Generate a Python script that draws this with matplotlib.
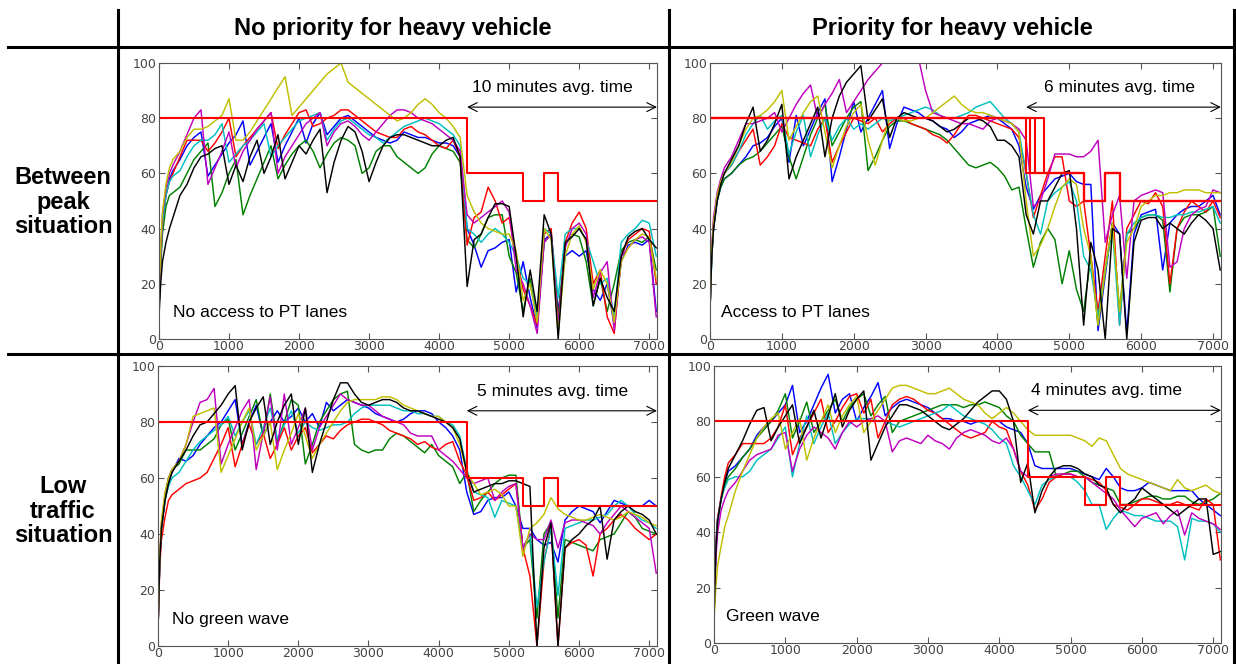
"""
    speed profiles of heavy vehicles - 2x2 comparison table
"""

import matplotlib
matplotlib.use('Agg')
import matplotlib.pyplot as plt

# time grid (s), shared by every series
T = [0, 25, 50, 100, 150, 200,
     300, 400, 500, 600, 700, 800, 900, 1000, 1100, 1200,
     1300, 1400, 1500, 1600, 1700, 1800, 1900, 2000, 2100, 2200,
     2300, 2400, 2500, 2600, 2700, 2800, 2900, 3000, 3100, 3200,
     3300, 3400, 3500, 3600, 3700, 3800, 3900, 4000, 4100, 4200,
     4300, 4400, 4500, 4600, 4700, 4800, 4900, 5000, 5100, 5200,
     5300, 5400, 5500, 5600, 5700, 5800, 5900, 6000, 6100, 6200,
     6300, 6400, 6500, 6600, 6700, 6800, 6900, 7000, 7100]

# speed limit steps
limit_t = [0, 4400, 5200, 5500, 5700, 7110]
limit_v = [80, 60, 50, 60, 50, 50]
tr_limit_drops = [4400, 4450, 4520, 4650]

col_names = ['No priority for heavy vehicle', 'Priority for heavy vehicle']
row_names = ['Between\npeak\nsituation', 'Low\ntraffic\nsituation']
panel_notes = ['No access to PT lanes', 'Access to PT lanes', 'No green wave', 'Green wave']
avg_notes = ['10 minutes avg. time', '6 minutes avg. time', '5 minutes avg. time', '4 minutes avg. time']

# ---- between peak, no priority
tl_b = [10, 30, 42, 52, 58, 61,
        65, 70, 73, 75, 59, 63, 67, 71, 74, 79,
        63, 68, 73, 78, 64, 70, 75, 80, 71, 78,
        82, 74, 77, 80, 81, 79, 77, 75, 73, 72,
        71, 72, 75, 74, 73, 73, 72, 71, 71, 70,
        66, 40, 34, 26, 32, 33, 35, 36, 17, 28,
        15, 4, 36, 38, 10, 30, 32, 30, 32, 18,
        14, 20, 5, 28, 34, 35, 34, 36, 10]
tl_g = [10, 26, 38, 48, 52, 53,
        55, 60, 65, 68, 71, 48, 53, 60, 65, 45,
        52, 58, 64, 70, 58, 63, 67, 70, 72, 68,
        62, 67, 71, 73, 72, 70, 60, 62, 68, 70,
        70, 66, 64, 62, 60, 62, 67, 70, 69, 68,
        64, 36, 33, 38, 44, 45, 45, 30, 24, 10,
        22, 6, 35, 38, 8, 34, 38, 37, 28, 12,
        22, 10, 20, 32, 35, 36, 35, 37, 25]
tl_r = [12, 30, 42, 52, 57, 60,
        66, 72, 72, 72, 68, 71, 75, 80, 66, 70,
        73, 76, 79, 82, 69, 74, 78, 82, 83, 77,
        78, 80, 81, 83, 83, 81, 79, 77, 75, 74,
        73, 73, 76, 77, 75, 74, 72, 70, 69, 72,
        66, 34, 44, 46, 55, 50, 42, 44, 30, 18,
        12, 5, 38, 40, 4, 35, 42, 46, 40, 20,
        25, 8, 2, 30, 36, 38, 40, 39, 20]
tl_c = [10, 30, 42, 52, 57, 59,
        61, 66, 70, 72, 72, 74, 78, 64, 67, 70,
        72, 75, 78, 66, 70, 73, 76, 79, 80, 81,
        82, 72, 76, 79, 80, 78, 76, 74, 73, 71,
        73, 75, 77, 78, 79, 80, 79, 78, 76, 74,
        70, 40, 38, 35, 38, 40, 38, 35, 30, 22,
        20, 8, 40, 38, 15, 38, 40, 40, 36, 28,
        20, 22, 8, 35, 38, 40, 43, 42, 30]
tl_m = [10, 32, 45, 55, 60, 63,
        68, 74, 80, 83, 56, 62, 68, 75, 62, 68,
        72, 76, 79, 82, 60, 66, 70, 74, 78, 80,
        82, 70, 75, 78, 79, 77, 74, 72, 75, 78,
        81, 83, 83, 82, 80, 79, 78, 76, 74, 72,
        68, 45, 42, 44, 46, 48, 50, 46, 25, 20,
        12, 2, 35, 38, 5, 33, 40, 42, 38, 15,
        24, 28, 3, 30, 33, 36, 37, 35, 8]
tl_y = [12, 34, 46, 56, 62, 65,
        68, 73, 76, 76, 77, 79, 81, 87, 72, 72,
        75, 79, 83, 87, 91, 95, 81, 84, 87, 90,
        93, 96, 98, 100, 93, 91, 89, 87, 85, 83,
        81, 79, 80, 82, 85, 87, 85, 82, 80, 77,
        73, 52, 46, 42, 40, 39, 38, 38, 32, 14,
        20, 6, 40, 36, 2, 30, 38, 41, 35, 18,
        25, 20, 6, 28, 33, 36, 38, 37, 22]
tl_k = [8, 20, 28, 35, 40, 44,
        52, 56, 62, 66, 67, 69, 70, 56, 63, 57,
        66, 72, 60, 66, 74, 58, 64, 70, 67, 72,
        76, 53, 64, 72, 77, 75, 68, 57, 64, 70,
        73, 74, 74, 73, 72, 71, 70, 70, 72, 73,
        66, 19, 36, 38, 44, 49, 49, 48, 30, 8,
        25, 10, 45, 38, 0, 35, 37, 40, 36, 12,
        22, 15, 10, 30, 37, 39, 40, 36, 33]

# ---- between peak, priority
tr_b = [10, 30, 40, 50, 55, 58,
        60, 63, 66, 70, 71, 73, 77, 80, 64, 81,
        70, 76, 82, 87, 57, 66, 76, 86, 75, 80,
        85, 90, 69, 78, 84, 83, 82, 80, 79, 77,
        76, 73, 75, 78, 79, 80, 81, 80, 78, 76,
        70, 55, 47, 52, 55, 58, 59, 60, 57, 56,
        56, 3, 23, 42, 38, 2, 38, 45, 46, 47,
        25, 42, 45, 47, 48, 48, 50, 52, 45]
tr_g = [10, 30, 40, 50, 55, 58,
        60, 63, 65, 66, 68, 71, 74, 77, 66, 58,
        66, 74, 80, 85, 70, 75, 80, 84, 86, 61,
        66, 72, 77, 79, 79, 78, 77, 76, 75, 74,
        72, 69, 66, 63, 62, 63, 64, 62, 59, 54,
        55, 40, 26, 35, 40, 36, 20, 32, 18, 10,
        30, 5, 25, 42, 10, 38, 40, 44, 45, 45,
        43, 17, 40, 44, 45, 45, 46, 48, 30]
tr_r = [10, 32, 42, 52, 57, 60,
        63, 68, 72, 76, 63, 66, 70, 78, 73, 72,
        71, 70, 76, 80, 64, 70, 75, 80, 79, 78,
        80, 75, 78, 80, 80, 78, 77, 76, 74, 73,
        71, 74, 78, 81, 81, 80, 79, 78, 77, 76,
        73, 60, 44, 52, 60, 66, 66, 50, 48, 50,
        30, 10, 30, 50, 5, 40, 45, 50, 49, 53,
        48, 20, 40, 46, 50, 48, 46, 50, 44]
tr_c = [10, 30, 42, 52, 57, 60,
        63, 68, 74, 78, 81, 76, 79, 81, 67, 75,
        81, 66, 74, 80, 72, 77, 80, 76, 78, 76,
        78, 80, 79, 80, 81, 82, 83, 84, 83, 81,
        80, 80, 81, 82, 84, 85, 86, 83, 80, 78,
        75, 60, 45, 38, 50, 53, 55, 57, 50, 30,
        25, 8, 25, 40, 5, 38, 42, 44, 45, 45,
        44, 44, 45, 45, 46, 46, 47, 48, 42]
tr_m = [10, 33, 44, 53, 58, 62,
        66, 72, 78, 78, 79, 80, 82, 75, 80, 85,
        89, 92, 80, 85, 89, 94, 82, 86, 90, 94,
        97, 100, 104, 110, 112, 108, 102, 90, 82, 81,
        80, 79, 78, 78, 77, 76, 79, 80, 79, 78,
        76, 72, 48, 50, 58, 67, 67, 67, 66, 66,
        68, 72, 35, 45, 52, 22, 50, 52, 53, 54,
        53, 26, 28, 40, 45, 47, 48, 54, 53]
tr_y = [10, 32, 42, 52, 57, 60,
        64, 70, 76, 80, 81, 83, 86, 90, 72, 77,
        82, 86, 88, 75, 62, 70, 77, 82, 85, 72,
        63, 72, 80, 80, 79, 79, 80, 80, 82, 84,
        86, 88, 85, 83, 82, 82, 81, 80, 79, 78,
        75, 50, 30, 34, 40, 48, 55, 58, 56, 40,
        30, 5, 25, 42, 10, 35, 40, 48, 50, 52,
        52, 53, 53, 54, 54, 54, 53, 53, 53]
tr_k = [10, 30, 40, 50, 56, 60,
        65, 70, 78, 84, 68, 72, 78, 85, 58, 66,
        72, 78, 84, 66, 80, 88, 93, 96, 99, 79,
        83, 87, 73, 80, 82, 81, 80, 80, 79, 77,
        75, 76, 78, 80, 80, 79, 77, 72, 72, 70,
        66, 45, 38, 50, 50, 55, 60, 61, 40, 5,
        35, 25, 0, 40, 38, 0, 35, 43, 44, 44,
        40, 42, 40, 38, 42, 45, 43, 40, 25]

# ---- low traffic, no priority
bl_b = [5, 30, 42, 52, 58, 62,
        67, 66, 68, 72, 75, 78, 80, 84, 88, 72,
        80, 86, 75, 80, 84, 80, 82, 85, 80, 83,
        78, 87, 84, 86, 88, 87, 86, 85, 83, 82,
        81, 80, 81, 83, 84, 84, 83, 80, 78, 75,
        70, 55, 47, 48, 52, 53, 53, 55, 50, 42,
        42, 38, 36, 37, 30, 45, 48, 50, 49, 48,
        44, 48, 52, 51, 50, 50, 50, 52, 50]
bl_g = [5, 30, 42, 52, 60, 63,
        65, 70, 70, 70, 72, 74, 79, 81, 70, 76,
        82, 88, 75, 90, 73, 80, 88, 86, 65, 72,
        80, 84, 88, 90, 91, 72, 70, 69, 70, 70,
        74, 76, 75, 73, 71, 69, 72, 68, 66, 64,
        58, 62, 48, 52, 55, 58, 60, 61, 61, 35,
        38, 10, 40, 44, 10, 38, 37, 36, 35, 34,
        38, 39, 40, 44, 48, 46, 42, 41, 40]
bl_r = [5, 28, 38, 46, 52, 54,
        56, 58, 59, 60, 62, 67, 72, 78, 64, 72,
        79, 72, 76, 67, 72, 78, 70, 75, 78, 69,
        72, 75, 74, 77, 79, 80, 81, 81, 80, 79,
        77, 76, 75, 74, 72, 73, 71, 70, 72, 73,
        66, 61, 52, 53, 55, 52, 54, 56, 58, 35,
        25, 0, 30, 43, 0, 35, 37, 38, 36, 25,
        40, 42, 45, 47, 45, 42, 40, 38, 40]
bl_c = [5, 30, 42, 52, 57, 60,
        62, 66, 70, 73, 75, 77, 79, 82, 75, 80,
        84, 72, 78, 85, 74, 79, 84, 76, 80, 78,
        77, 78, 79, 79, 80, 83, 85, 86, 86, 86,
        86, 85, 84, 84, 83, 83, 82, 82, 80, 79,
        75, 63, 55, 54, 53, 46, 52, 51, 50, 35,
        40, 14, 30, 42, 18, 42, 43, 44, 45, 45,
        46, 47, 50, 52, 50, 47, 45, 44, 42]
bl_m = [5, 32, 44, 54, 60, 63,
        66, 72, 80, 87, 88, 92, 65, 72, 78, 84,
        88, 63, 76, 89, 70, 90, 72, 78, 85, 70,
        78, 82, 86, 90, 88, 87, 86, 86, 84, 82,
        81, 80, 79, 76, 75, 75, 75, 70, 68, 66,
        63, 60, 58, 59, 60, 52, 55, 57, 58, 35,
        40, 38, 38, 45, 35, 44, 45, 45, 44, 43,
        40, 44, 47, 50, 48, 46, 44, 42, 26]
bl_y = [5, 32, 45, 55, 60, 63,
        66, 72, 82, 83, 84, 85, 62, 68, 74, 80,
        85, 70, 75, 80, 63, 70, 76, 83, 75, 67,
        72, 76, 80, 84, 87, 88, 88, 88, 88, 89,
        89, 88, 86, 85, 84, 83, 82, 82, 80, 78,
        72, 62, 58, 54, 55, 56, 54, 50, 50, 32,
        42, 44, 47, 53, 49, 47, 46, 45, 45, 46,
        47, 46, 45, 46, 48, 47, 46, 44, 43]
bl_k = [5, 30, 42, 52, 58, 62,
        66, 70, 75, 79, 80, 83, 86, 90, 93, 70,
        80, 85, 89, 72, 80, 86, 90, 72, 85, 62,
        72, 80, 88, 94, 94, 90, 87, 86, 87, 88,
        88, 87, 85, 84, 84, 83, 82, 81, 80, 78,
        74, 62, 55, 56, 57, 58, 58, 59, 59, 58,
        57, 0, 35, 44, 0, 35, 38, 40, 43, 45,
        50, 31, 45, 48, 50, 48, 47, 45, 40]

# ---- low traffic, priority (green wave)
br_b = [10, 35, 45, 52, 58, 62,
        64, 67, 70, 75, 78, 80, 83, 86, 93, 76,
        80, 86, 92, 97, 83, 88, 90, 80, 85, 89,
        94, 82, 85, 87, 88, 87, 86, 85, 83, 81,
        81, 80, 80, 79, 80, 80, 80, 80, 78, 77,
        76, 72, 64, 63, 63, 63, 63, 63, 62, 61,
        60, 59, 63, 60, 56, 55, 55, 56, 58, 57,
        56, 55, 55, 55, 55, 52, 50, 48, 46]
br_g = [10, 33, 44, 52, 57, 60,
        63, 67, 70, 74, 77, 80, 84, 90, 74, 80,
        87, 76, 80, 84, 88, 80, 85, 88, 90, 82,
        86, 89, 76, 80, 81, 82, 83, 84, 85, 86,
        86, 86, 85, 86, 86, 87, 86, 85, 82, 80,
        75, 72, 69, 69, 69, 60, 61, 62, 62, 60,
        58, 57, 56, 55, 50, 50, 51, 52, 53, 53,
        52, 52, 53, 53, 51, 50, 51, 52, 54]
br_r = [10, 35, 45, 53, 60, 65,
        68, 72, 72, 72, 72, 74, 78, 86, 68, 74,
        78, 83, 88, 76, 80, 85, 89, 90, 83, 88,
        74, 80, 86, 88, 89, 88, 86, 84, 83, 81,
        79, 77, 75, 74, 75, 76, 80, 78, 77, 70,
        62, 57, 48, 52, 58, 60, 61, 61, 60, 60,
        59, 58, 55, 50, 49, 48, 50, 52, 52, 51,
        50, 50, 51, 50, 49, 48, 52, 50, 30]
br_c = [10, 33, 44, 52, 56, 59,
        60, 60, 62, 66, 68, 70, 74, 78, 60, 72,
        82, 72, 78, 83, 72, 76, 79, 81, 81, 81,
        80, 80, 79, 78, 79, 80, 81, 82, 83, 84,
        86, 84, 82, 81, 80, 79, 77, 74, 72, 64,
        60, 55, 50, 57, 59, 60, 60, 60, 58, 55,
        50, 50, 41, 45, 48, 47, 46, 46, 45, 44,
        44, 44, 42, 30, 45, 44, 44, 43, 40]
br_m = [10, 30, 40, 48, 52, 55,
        58, 62, 66, 68, 69, 70, 75, 76, 62, 70,
        75, 78, 76, 74, 70, 76, 80, 78, 80, 81,
        82, 80, 69, 73, 74, 73, 72, 75, 73, 72,
        70, 74, 76, 77, 76, 75, 73, 72, 74, 70,
        62, 60, 60, 60, 60, 61, 61, 61, 60, 60,
        58, 56, 54, 52, 48, 45, 42, 45, 46, 47,
        43, 46, 48, 39, 47, 45, 44, 43, 41]
br_y = [8, 20, 28, 35, 42, 46,
        55, 62, 68, 74, 78, 81, 83, 70, 76, 81,
        66, 74, 80, 86, 76, 82, 86, 89, 76, 80,
        84, 88, 92, 93, 93, 92, 91, 90, 90, 91,
        92, 90, 88, 87, 86, 83, 81, 83, 85, 83,
        80, 77, 75, 75, 75, 75, 75, 75, 74, 73,
        71, 74, 73, 68, 63, 61, 60, 59, 58, 57,
        56, 55, 59, 56, 55, 56, 57, 55, 54]
br_k = [10, 33, 44, 52, 58, 63,
        68, 73, 79, 84, 85, 73, 78, 82, 86, 72,
        78, 84, 74, 82, 90, 78, 84, 88, 91, 66,
        72, 78, 82, 86, 86, 85, 84, 82, 80, 78,
        77, 79, 81, 84, 87, 89, 91, 91, 88, 80,
        58, 65, 47, 55, 60, 63, 64, 64, 63, 61,
        60, 57, 56, 50, 47, 50, 52, 56, 54, 52,
        50, 48, 46, 48, 50, 52, 52, 32, 33]

colors = ['#0000ff', '#008000', '#ff0000', '#00bfbf', '#bf00bf', '#bfbf00', '#000000']
panels = [[tl_b, tl_g, tl_r, tl_c, tl_m, tl_y, tl_k],
          [tr_b, tr_g, tr_r, tr_c, tr_m, tr_y, tr_k],
          [bl_b, bl_g, bl_r, bl_c, bl_m, bl_y, bl_k],
          [br_b, br_g, br_r, br_c, br_m, br_y, br_k]]

# axes boxes in figure fraction [left, bottom, width, height]
boxes = [[0.1286, 0.4895, 0.4029, 0.4157],
         [0.5744, 0.4895, 0.4134, 0.4157],
         [0.1278, 0.0271, 0.4037, 0.4217],
         [0.5777, 0.0316, 0.4102, 0.4172]]
note_x = [200, 150, 200, 170]
avg_x = [5620, 5700, 5620, 5500]

XMAX = 7110

fig = plt.figure(figsize=(12.36, 6.64), dpi=100)


def draw_panel(k):
    ax = fig.add_axes(boxes[k])
    for series, c in zip(panels[k], colors):
        assert len(series) == len(T)
        ax.plot(T, series, color=c, lw=1.05)

    # speed limit (several drop times when priority is given)
    drops = tr_limit_drops if k == 1 else [limit_t[1]]
    for d in drops:
        lt = [limit_t[0], d] + limit_t[2:]
        ax.plot(lt, limit_v, color='#ff0000', lw=1.5, drawstyle='steps-post')

    ax.set_xlim(0, XMAX)
    ax.set_ylim(0, 100)
    ax.set_xticks(range(0, 7001, 1000))
    ax.set_yticks(range(0, 101, 20))
    ax.tick_params(direction='in', top=True, right=True, length=4,
                   labelsize=9, labelcolor='#444444', color='#555555', pad=2)
    ax.tick_params(axis='x', pad=1)
    for sp in ax.spines.values():
        sp.set_color('#555555')

    ax.annotate('', xy=(4400, 84), xytext=(XMAX, 84),
                arrowprops=dict(arrowstyle='<->', lw=0.8, color='black',
                                shrinkA=0, shrinkB=0, mutation_scale=16),
                annotation_clip=False)
    ax.text(avg_x[k], 91, avg_notes[k], ha='center', va='center',
            fontsize=12.5, family='Liberation Sans')
    ax.text(note_x[k], 9.5, panel_notes[k], ha='left', va='center',
            fontsize=12.5, family='Liberation Sans')


for k in range(4):
    draw_panel(k)

# table frame
line_kw = dict(color='black', lw=2.2, transform=fig.transFigure, clip_on=False)
fig.add_artist(plt.Line2D([8 / 1236, 1], [1 - 47 / 664] * 2, **line_kw))
fig.add_artist(plt.Line2D([8 / 1236, 1], [1 - 354 / 664] * 2, **line_kw))
fig.add_artist(plt.Line2D([118 / 1236] * 2, [0, 1 - 10 / 664], **line_kw))
fig.add_artist(plt.Line2D([669 / 1236] * 2, [0, 1 - 10 / 664], **line_kw))
fig.add_artist(plt.Line2D([1234 / 1236] * 2, [0, 1 - 10 / 664], **line_kw))

# headers
fig.text(393 / 1236, 1 - 29 / 664, col_names[0], ha='center', va='center',
         fontsize=17, fontweight='bold', family='Liberation Sans')
fig.text(952 / 1236, 1 - 29 / 664, col_names[1], ha='center', va='center',
         fontsize=17, fontweight='bold', family='Liberation Sans')
fig.text(63 / 1236, 1 - 202 / 664, row_names[0], ha='center', va='center',
         fontsize=17, fontweight='bold', family='Liberation Sans', linespacing=1.1)
fig.text(63 / 1236, 1 - 511 / 664, row_names[1], ha='center', va='center',
         fontsize=17, fontweight='bold', family='Liberation Sans', linespacing=1.1)

fig.savefig('out.png', dpi=100)
